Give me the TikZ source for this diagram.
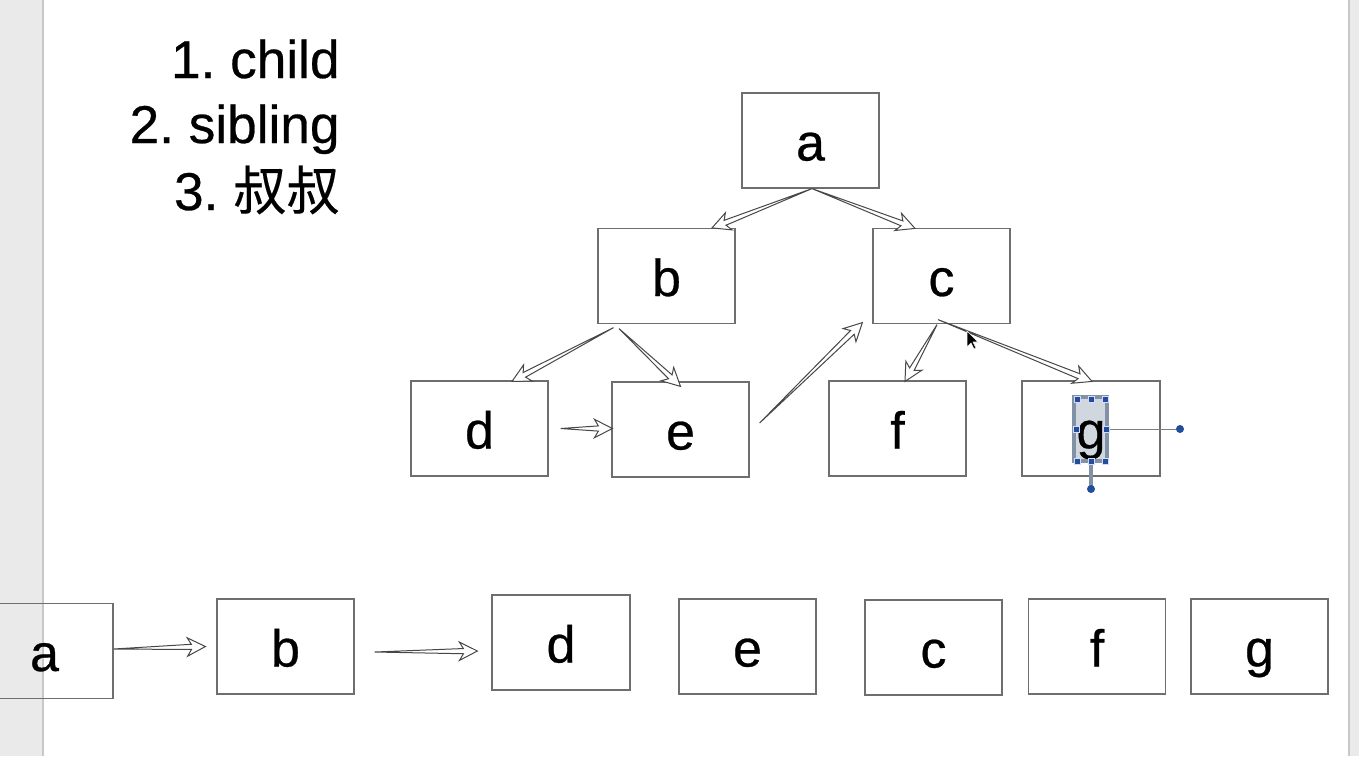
\documentclass[tikz,border=0pt]{standalone}
\usepackage{fontspec}
\setmainfont{Liberation Sans}[FakeBold=0.5]
\newfontfamily\cjk{Noto Sans CJK SC}[FakeBold=0.3]
\usetikzlibrary{calc}
\definecolor{boxline}{HTML}{6E6E6E}
\definecolor{arrline}{HTML}{474747}
\definecolor{stripc}{HTML}{EAEAEA}
\definecolor{stripline}{HTML}{C8C8C8}
\definecolor{selfill}{HTML}{A9B6C4}
\definecolor{selline}{HTML}{8192A6}
\definecolor{handle}{HTML}{1F4E9A}
\tikzset{
  box/.style={draw=boxline, line width=0.6pt, minimum width=68.5pt, minimum height=47.5pt,
    inner sep=0pt, text height=20pt, text depth=0pt, font=\fontsize{26}{30}\selectfont},
  listtext/.style={anchor=base east, inner sep=0pt, font=\fontsize{26.6}{31}\selectfont},
  harrow/.style={draw=arrline, line width=0.5pt, fill=white, line join=miter},
  handlebox/.style={fill=handle, draw=white!85!blue, line width=0.4pt},
}
\newcommand{\hollowarrow}[2]{%
  \coordinate (ha1) at ($(#2)!7pt!(#1)$);
  \coordinate (ha2) at ($(#2)!9pt!(#1)$);
  \draw[harrow] (#1) -- ($(ha1)!1.3pt!90:(#2)$) -- ($(ha2)!4.6pt!90:(#2)$) -- (#2)
    -- ($(ha2)!4.6pt!-90:(#2)$) -- ($(ha1)!1.3pt!-90:(#2)$) -- cycle;}
\begin{document}
\frenchspacing
\begin{tikzpicture}[x=0.5pt,y=-0.5pt]
\useasboundingbox (0,0) rectangle (1359,756);
\begin{scope}
\clip (0,0) rectangle (1359,756);
% side strips
\fill[stripc] (0,0) rectangle (43,756);
\draw[stripline, line width=1.2pt] (43,0) -- (43,756);
\fill[stripc] (1349,0) rectangle (1359,756);
\draw[stripline, line width=1pt] (1349,0) -- (1349,756);

% list
\node[listtext] (l1) at (340,78) {1. child};
\node[listtext] (l2) at (340,143) {2. sibling};
\node[listtext] (l3) at (340,210) {3. {\cjk 叔叔}};

% selection fill behind g
\fill[selfill, opacity=0.55] (1073,396) rectangle (1108,462);

% tree
\node[box] (a) at (810.5,140.5) {a};
\node[box] (b) at (666.5,276) {b};
\node[box] (c) at (941.5,276) {c};
\node[box] (d) at (479.5,428.5) {d};
\node[box] (e) at (680.5,429.5) {e};
\node[box] (f) at (897.5,428.5) {f};
\node[box, minimum width=69pt] (g) at (1091,428.5) {g};

% bottom row
\node[box] (A) at (44.5,651) {a};
\node[box] (B) at (285.5,646.5) {b};
\node[box, minimum width=69pt] (D) at (561,642.5) {d};
\node[box] (E) at (747.5,646.5) {e};
\node[box] (C) at (933.5,647.5) {c};
\node[box] (F) at (1097,646.5) {f};
\node[box] (G) at (1259.5,646.5) {g};

% arrow endpoints
\coordinate (ab0) at ($(a.south)+(1.5,0)$);
\coordinate (ab1) at ($(b.north)+(45.5,0)$);
\coordinate (ac1) at ($(c.north)+(-26.5,0.5)$);
\coordinate (bd0) at ($(b.south)+(-53,3.5)$);
\coordinate (bd1) at ($(d.north)+(32.5,1)$);
\coordinate (be0) at ($(b.south)+(-47.5,4.5)$);
\coordinate (be1) at ($(e.north)+(0,5)$);
\coordinate (de0) at ($(d.east)+(12,0)$);
\coordinate (de1) at ($(e.west)+(1,-1)$);
\coordinate (ec0) at ($(e.east)+(10,-6.5)$);
\coordinate (ec1) at ($(c.south west)+(-10,-1.5)$);
\coordinate (cf0) at ($(c.south)+(-4.5,0.5)$);
\coordinate (cf1) at ($(f.north)+(7.5,1)$);
\coordinate (cg0) at ($(c.south)+(-3.5,-4.5)$);
\coordinate (cg1) at ($(g.north)+(1,1)$);
\coordinate (AB0) at ($(A.east)+(0,-2)$);
\coordinate (AB1) at ($(B.west)+(-11,0)$);
\coordinate (BD0) at ($(B.east)+(20,5.5)$);
\coordinate (BD1) at ($(D.west)+(-14,8.5)$);

\hollowarrow{ab0}{ab1}
\hollowarrow{ab0}{ac1}
\hollowarrow{bd0}{bd1}
\hollowarrow{be0}{be1}
\hollowarrow{de0}{de1}
\hollowarrow{ec0}{ec1}
\hollowarrow{cf0}{cf1}
\hollowarrow{cg0}{cg1}
\hollowarrow{AB0}{AB1}
\hollowarrow{BD0}{BD1}

% selection handles on g
\draw[selline, line width=1.8pt] (1074,397) rectangle (1107,461);
\draw[gray, line width=0.5pt] (1108,429) -- (1180,429);
\fill[handle] (1180,429) circle (4);
\draw[selline, line width=2pt] (1091,462) -- (1091,489);
\fill[handle] (1091,489) circle (4);
\foreach \px/\py in {1077/399,1091/399,1105/399,1076/429,1106/429,1077/461,1091/461,1105/461}
  \filldraw[handlebox] (\px-3,\py-3) rectangle (\px+3,\py+3);

% mouse cursor
\filldraw[fill=black, draw=white, line width=0.3pt]
  (967,331) -- (967,347) -- (971,343) -- (974,349) -- (976,348) -- (973,342) -- (978,342) -- cycle;
\end{scope}
\end{tikzpicture}
\end{document}
